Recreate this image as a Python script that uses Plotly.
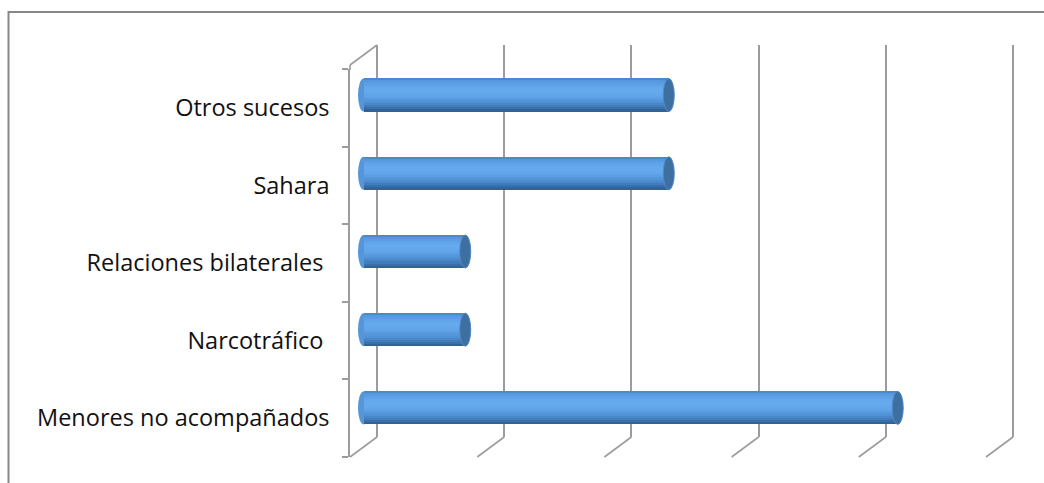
import plotly.graph_objects as go

# Topics, listed bottom-to-top as they sit on the category axis
categories = ["Menores no acompañados", "Narcotráfico\u00a0", "Relaciones bilaterales\u00a0",
              "Sahara", "Otros sucesos"]
values = [21, 4, 4, 12, 12]
x_ticks = [0, 5, 10, 15, 20, 25]

W, H = 1044, 483
GRID = "#9c9c9c"
DEPTH_X = -27          # oblique depth offset of the floor, px
BAR_W = 0.42           # cylinder thickness, in category units
EPS = 1e-6             # keeps pixel-sized shapes anchored at zero
X_MAX = 25


def px(x):
    return x / W


def py(y):
    return 1 - y / H


def plane_x(zero_px, end_px, pad_l, pad_r):
    """Domain and range for a value axis whose 0..X_MAX spans zero_px..end_px,
    padded on both sides so edge gridlines and end caps are not clipped."""
    scale = (end_px - zero_px) / X_MAX
    dom = [px(zero_px - pad_l), px(end_px + pad_r)]
    rng = [-pad_l / scale, X_MAX + pad_r / scale]
    return dom, rng


def mix(c1, c2, t):
    a = [int(c1[i:i + 2], 16) for i in (1, 3, 5)]
    b = [int(c2[i:i + 2], 16) for i in (1, 3, 5)]
    return "#" + "".join(f"{round(a[k] + (b[k] - a[k]) * t):02x}" for k in range(3))


# shading stops across the cylinder, top (0) to bottom (1)
stops = [(0.00, "#4383c8"), (0.10, "#5799df"), (0.32, "#67abef"),
         (0.52, "#62a5ea"), (0.72, "#5091d5"), (0.88, "#3e76b2"), (1.00, "#2e5c8c")]


def shade(t):
    for (t0, c0), (t1, c1) in zip(stops, stops[1:]):
        if t <= t1:
            return mix(c0, c1, (t - t0) / (t1 - t0))
    return stops[-1][1]


fig = go.Figure()

# axis carriers for the back wall and the front plane
fig.add_trace(go.Scatter(x=values, y=categories, xaxis="x", yaxis="y", mode="markers",
                         marker=dict(opacity=0), hoverinfo="skip", showlegend=False))
fig.add_trace(go.Scatter(x=values, y=categories, xaxis="x3", yaxis="y3", mode="markers",
                         marker=dict(opacity=0), hoverinfo="skip", showlegend=False))

# cylinder body: thin stacked bands give the rounded shading
N = 16
for i in range(N):
    s, e = i / N, (i + 1) / N
    fig.add_trace(go.Bar(
        x=values, y=categories, orientation="h", xaxis="x2", yaxis="y2",
        width=BAR_W * (e - s) + 0.004, offset=BAR_W / 2 - e * BAR_W,
        marker=dict(color=shade((s + e) / 2), line=dict(width=0)),
        hoverinfo="skip", showlegend=False))

line_style = dict(color=GRID, width=1.6)
shapes = []
# outer chart border
shapes.append(dict(type="rect", xref="paper", yref="paper", x0=px(8.5), x1=1.2,
                   y0=-0.2, y1=py(12), line=dict(color="#878787", width=2),
                   fillcolor="rgba(0,0,0,0)", layer="below"))
# floor edges running from each back gridline toward the viewer
for t in x_ticks:
    shapes.append(dict(type="line", xref="x", xsizemode="pixel", xanchor=t + EPS,
                       x0=0, x1=DEPTH_X, yref="paper", y0=py(437), y1=py(457),
                       line=line_style, layer="below"))
# top edge of the side wall, meeting the front axis line
shapes.append(dict(type="line", xref="x", xsizemode="pixel", xanchor=EPS,
                   x0=0, x1=DEPTH_X, yref="paper", y0=py(45), y1=py(65),
                   line=line_style, layer="below"))
shapes.append(dict(type="line", xref="x", xsizemode="pixel", xanchor=EPS,
                   x0=DEPTH_X, x1=DEPTH_X, yref="paper", y0=py(65), y1=py(70),
                   line=line_style, layer="below"))
# cylinder end caps
for idx, v in enumerate(values):
    shapes.append(dict(type="circle", xref="x2", xsizemode="pixel", xanchor=EPS,
                       x0=-5.5, x1=5.5, yref="y2", ysizemode="pixel", yanchor=idx + EPS,
                       y0=-16.5, y1=16.5, fillcolor="#5596da", line=dict(width=0),
                       layer="between"))
    shapes.append(dict(type="circle", xref="x2", xsizemode="pixel", xanchor=v,
                       x0=-5.5, x1=5.5, yref="y2", ysizemode="pixel", yanchor=idx + EPS,
                       y0=-16.5, y1=16.5, fillcolor="#3e6fa1",
                       line=dict(color="#5289c2", width=1), layer="above"))

x1_dom, x1_rng = plane_x(377, 1013, 32, 6)
x2_dom, x2_rng = plane_x(363.5, 999.5, 12, 12)
x3_dom, x3_rng = plane_x(350, 986, 0, 0)

hidden = dict(visible=False)
fig.update_layout(
    width=W, height=H, autosize=False,
    margin=dict(l=0, r=0, t=0, b=0),
    paper_bgcolor="white", plot_bgcolor="rgba(0,0,0,0)",
    barmode="overlay", bargap=0,
    font=dict(family="Open Sans", color="#111111"),
    shapes=shapes,
    # back wall with its gridlines
    xaxis=dict(domain=x1_dom, range=x1_rng, tickvals=x_ticks,
               showgrid=True, gridcolor=GRID, gridwidth=1.6, zeroline=False,
               showline=False, showticklabels=False, ticks="", anchor="y"),
    yaxis=dict(domain=[py(437), py(45)], categoryorder="array", categoryarray=categories,
               showgrid=False, zeroline=False, showline=False, showticklabels=False,
               ticks="", anchor="x"),
    # mid-depth plane carrying the cylinders
    xaxis2=dict(domain=x2_dom, range=x2_rng, anchor="y2", **hidden),
    yaxis2=dict(domain=[py(447), py(56)], categoryorder="array", categoryarray=categories,
                range=[-0.5, 4.5], anchor="x2", **hidden),
    # front plane with the category labels
    xaxis3=dict(domain=x3_dom, range=x3_rng, anchor="y3", **hidden),
    yaxis3=dict(domain=[py(457), py(69)], categoryorder="array", categoryarray=categories,
                range=[-0.5, 4.5], anchor="x3", showline=True, linecolor=GRID,
                linewidth=1.6, ticks="outside", tickson="boundaries", ticklen=6,
                tickcolor=GRID, tickwidth=1.6, showgrid=False, zeroline=False,
                ticklabelstandoff=14, tickfont=dict(size=23.5, color="#111111")),
)

fig.write_html("out.html")
